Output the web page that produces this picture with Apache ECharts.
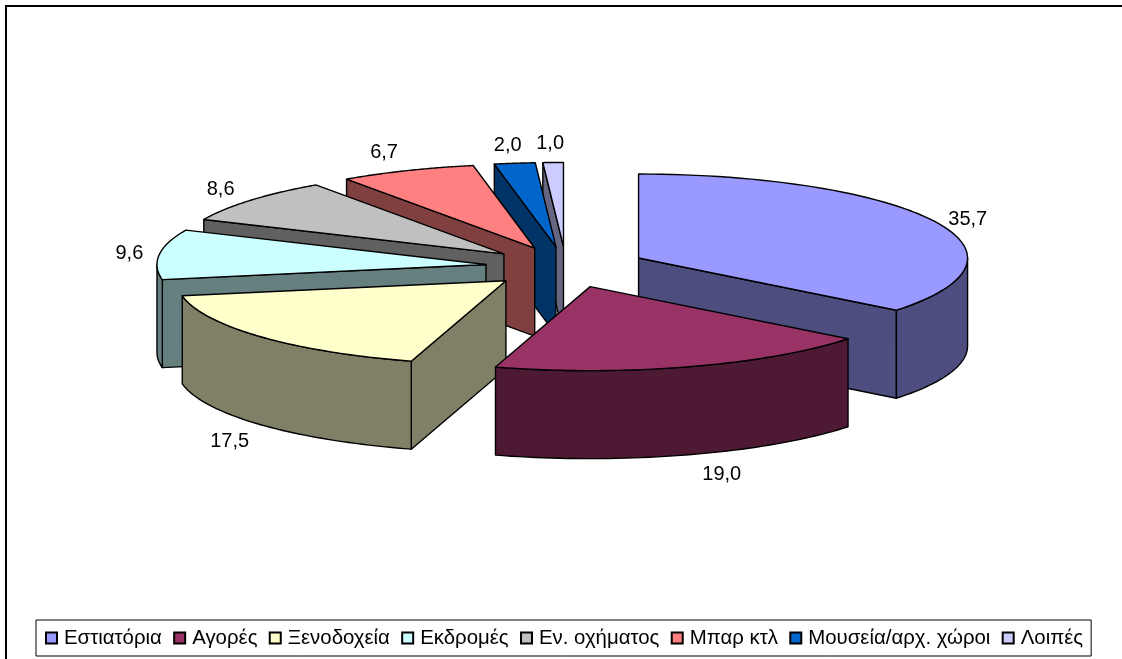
<!DOCTYPE html>
<html><head><meta charset="utf-8">
<style>html,body{margin:0;padding:0;background:#fff}#c{width:1122px;height:659px}</style>
<script src="https://cdn.jsdelivr.net/npm/echarts@6/dist/echarts.min.js"></script>
</head><body><div id="c"></div>
<script>
var categories = ['Εστιατόρια','Αγορές','Ξενοδοχεία','Εκδρομές','Εν. οχήματος','Μπαρ κτλ','Μουσεία/αρχ. χώροι','Λοιπές'];
var values = [35.7,19.0,17.5,9.6,8.6,6.7,2.0,1.0];
var valueLabels = ['35,7','19,0','17,5','9,6','8,6','6,7','2,0','1,0'];
var colors = ['#9999FF','#993366','#FFFFCC','#CCFFFF','#C0C0C0','#FF8080','#0066CC','#CCCCFF'];
var wallColors = ['#4D4D80','#4D1933','#808066','#668080','#606060','#804040','#003366','#666680'];
var drawOrder = [6,7,5,4,3,2,1,0]; // stacking height per slice (higher = in front)
var labelNudge = [[33,-2],[33,20],[-31,17],[-30,-1],[-30,-11],[-23,-18],[-7,-18],[-3,-19]];

var PIE = {cx:566, cy:267, rx:329, ry:84, depth:88, explode:0.245};
var total = values.reduce(function(a,b){return a+b;},0);
var starts = [];
values.reduce(function(acc,v,i){starts[i]=acc;return acc+v;},0);

function rad(frac){return frac*2*Math.PI;}
function rim(apex,t,dz){return [apex[0]+PIE.rx*Math.sin(t), apex[1]-PIE.ry*Math.cos(t)+(dz||0)];}

function renderSlice(i){
  var a = rad(starts[i]/total), b = rad((starts[i]+values[i])/total), m=(a+b)/2;
  var apex = [PIE.cx+PIE.explode*PIE.rx*Math.sin(m), PIE.cy-PIE.explode*PIE.ry*Math.cos(m)];
  var d = PIE.depth, stroke={stroke:'#000',lineWidth:1.4,lineJoin:'round'};
  var kids = [];
  function poly(pts,fill,z){kids.push({type:'polygon',z2:z,shape:{points:pts},style:Object.assign({fill:fill},stroke),silent:true});}
  function wall(t){
    var p=rim(apex,t);
    poly([apex,p,[p[0],p[1]+d],[apex[0],apex[1]+d]],wallColors[i],1);
  }
  if(Math.sin(a)<0) wall(a);
  if(Math.sin(b)>0) wall(b);
  var lo=Math.max(a,Math.PI/2), hi=Math.min(b,3*Math.PI/2);
  if(hi>lo){
    var up=[],dn=[],n=48;
    for(var k=0;k<=n;k++){var t=lo+(hi-lo)*k/n;up.push(rim(apex,t));dn.unshift(rim(apex,t,d));}
    poly(up.concat(dn),wallColors[i],2);
  }
  var top=[apex],n2=64;
  for(var k2=0;k2<=n2;k2++){top.push(rim(apex,a+(b-a)*k2/n2));}
  poly(top,colors[i],3);
  var lp=rim(apex,m,Math.cos(m)<0?d:0);
  kids.push({type:'text',z2:4,silent:true,style:{text:valueLabels[i],x:lp[0]+labelNudge[i][0],y:lp[1]+labelNudge[i][1],
    align:'center',verticalAlign:'middle',font:'20px "Liberation Sans"',fill:'#000'}});
  return {type:'group',children:kids};
}

var chart = echarts.init(document.getElementById('c'),null,{width:1122,height:659});
chart.setOption({
  animation:false,
  backgroundColor:'#fff',
  graphic:[{type:'rect',silent:true,z:-1,shape:{x:6,y:6,width:1200,height:800},style:{fill:'none',stroke:'#000',lineWidth:2}}],
  legend:{
    data:categories,left:36,top:620,orient:'horizontal',icon:'rect',
    itemWidth:11,itemHeight:11,itemGap:11.3,
    padding:[8,8,8,9],borderColor:'#000',borderWidth:1,backgroundColor:'#fff',
    selectedMode:false,
    textStyle:{fontFamily:'Liberation Sans',fontSize:20.4,color:'#000',padding:[0,0,0,2]}
  },
  series:categories.map(function(name,i){
    return {type:'custom',name:name,coordinateSystem:'none',z:2+drawOrder[i],silent:true,
      itemStyle:{color:colors[i],borderColor:'#000',borderWidth:1},
      data:[values[i]],
      renderItem:function(){return renderSlice(i);}};
  })
});
</script></body></html>
